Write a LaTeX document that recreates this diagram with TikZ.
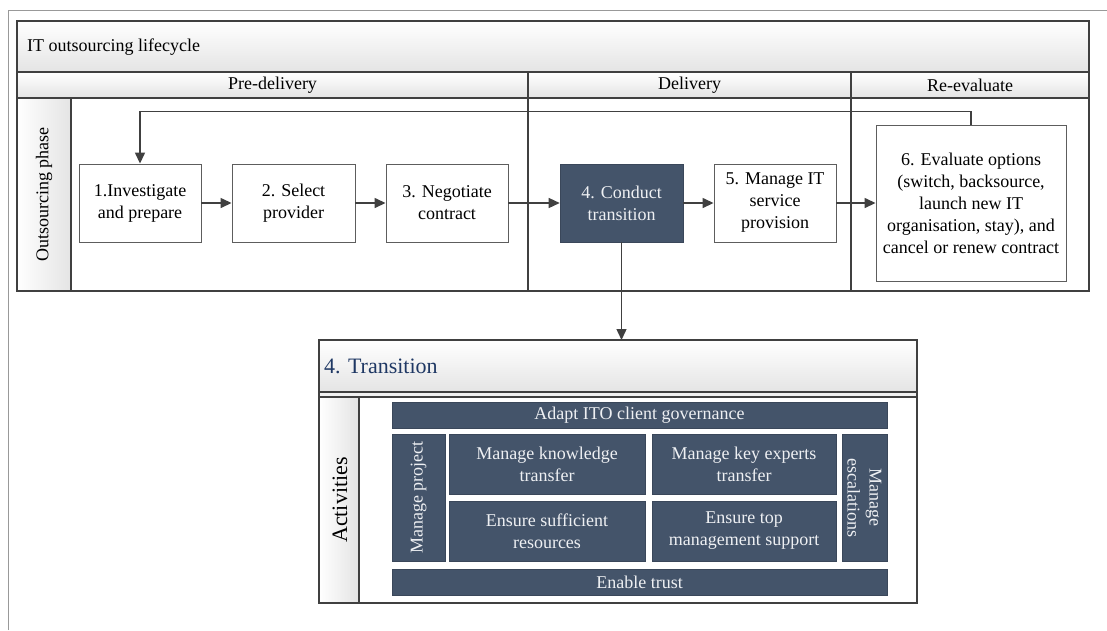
\documentclass[tikz,border=0pt]{standalone}
\usepackage{fontspec}
\setmainfont{Liberation Serif}
\usetikzlibrary{arrows.meta}
\definecolor{slate}{HTML}{44546A}
\definecolor{ink}{HTML}{404040}
\definecolor{navy}{HTML}{1F3864}
\definecolor{band}{HTML}{E4E4E4}
\definecolor{paletext}{HTML}{EEF0F3}
\newcommand{\txtfont}{\normalfont\rmfamily\fontsize{18}{22}\selectfont}
\newcommand{\bigtxtfont}{\normalfont\rmfamily\fontsize{22}{26}\selectfont}

\begin{document}
\begin{tikzpicture}[x=1pt,y=-1pt,
  frame/.style={draw=ink, line width=1.2pt},
  stepbox/.style={draw=ink!85, line width=0.9pt, fill=white, minimum width=122pt,
    minimum height=78pt, align=center, inner sep=2pt, font=\txtfont},
  darkbox/.style={fill=slate, draw=slate!85!black, line width=0.6pt, text=paletext,
    align=center, inner sep=1pt, font=\txtfont},
  caption/.style={font=\txtfont, inner sep=0pt},
  arr/.style={draw=ink, line width=1.4pt, -{Triangle[length=11pt,width=10pt]}}]

\useasboundingbox (0,0) rectangle (1107,630);

% surrounding page frame
\draw[gray!80, line width=0.8pt] (8,630) -- (8,10) -- (1107,10);

% ---------- lifecycle pool ----------
\fill[white] (17,21) rectangle (1089,291);
\fill[top color=white, bottom color=band] (17,21) rectangle (1089,72);
\fill[top color=white, bottom color=band] (17,72) rectangle (1089,98);
\fill[left color=white, right color=band] (17,98) rectangle (71,291);
\draw[frame] (17,21) rectangle (1089,291);
\draw[frame] (17,72) -- (1089,72);
\draw[frame] (17,98) -- (1089,98);
\draw[frame] (71,98) -- (71,291);
\draw[frame] (528,72) -- (528,291);
\draw[frame] (851,72) -- (851,291);

\node[caption, anchor=west] (lctitle) at (27,47) {IT outsourcing lifecycle};
\node[caption] (hpre) at (272.5,85) {Pre-delivery};
\node[caption] (hdel) at (689.5,85) {Delivery};
\node[caption] (hre) at (970,85) {Re-evaluate};
\node[caption, rotate=90] (hphase) at (44,194.5) {Outsourcing phase};

% process steps
\node[stepbox] (s1) at (140,203) {1.Investigate\\and prepare};
\node[stepbox, minimum width=123pt] (s2) at (293.5,203) {2. Select\\provider};
\node[stepbox] (s3) at (447,203) {3. Negotiate\\contract};
\node[darkbox, minimum width=123pt, minimum height=78pt] (s4) at (621.5,203) {4. Conduct\\transition};
\node[stepbox] (s5) at (775,203) {5. Manage IT\\service\\provision};
\node[stepbox, minimum width=190pt, minimum height=156pt] (s6) at (971,203)
  {6. Evaluate options\\(switch, backsource,\\launch new IT\\organisation, stay), and\\cancel or renew contract};

\draw[arr] (s1) -- (s2);
\draw[arr] (s2) -- (s3);
\draw[arr] (s3) -- (s4);
\draw[arr] (s4) -- (s5);
\draw[arr] (s5) -- (s6);
\draw[arr] (s6.north) -- ++(0,-13) -| (s1.north);

% ---------- transition detail ----------
\node[minimum width=598pt, minimum height=263pt, anchor=north west, inner sep=0pt] (trans) at (319,340) {};
\fill[white] (319,340) rectangle (917,603);
\fill[top color=white, bottom color=band] (319,340) rectangle (917,392);
\fill[band!50] (319,392) rectangle (917,397);
\fill[left color=white, right color=band] (319,397) rectangle (359,603);
\draw[frame] (319,340) rectangle (917,603);
\draw[frame] (319,392) -- (917,392);
\draw[frame] (319,397) -- (917,397);
\draw[frame] (359,397) -- (359,603);

\node[font=\bigtxtfont, text=navy, anchor=west, inner sep=0pt] (ttitle) at (324,366) {4. Transition};
\node[font=\bigtxtfont, rotate=90, inner sep=0pt] (tact) at (340,500) {Activities};

\draw[arr] (s4.south) -- (s4.south |- trans.north);

% activity blocks
\node[darkbox, minimum width=495pt, minimum height=26pt] (a1) at (639.5,415) {Adapt ITO client governance};
\node[darkbox, minimum width=53pt, minimum height=127pt] (a2) at (418.5,497.5) {};
\node[font=\txtfont, text=paletext, rotate=90, inner sep=0pt] (a2t) at (a2.center) {Manage project};
\node[darkbox, minimum width=196pt, minimum height=60pt] (a3) at (547,464) {Manage knowledge\\transfer};
\node[darkbox, minimum width=184pt, minimum height=60pt] (a4) at (744,464) {Manage key experts\\transfer};
\node[darkbox, minimum width=196pt, minimum height=60pt] (a5) at (547,531) {Ensure sufficient\\resources};
\node[darkbox, minimum width=184pt, minimum height=60pt] (a6) at (744,531) {Ensure top\\management support};
\node[darkbox, minimum width=45pt, minimum height=127pt] (a7) at (864.5,497.5) {};
\node[font=\txtfont, text=paletext, rotate=-90, align=center, inner sep=0pt] (a7t) at (a7.center) {Manage\\escalations};
\node[darkbox, minimum width=495pt, minimum height=26pt] (a8) at (639.5,582) {Enable trust};

\end{tikzpicture}
\end{document}
